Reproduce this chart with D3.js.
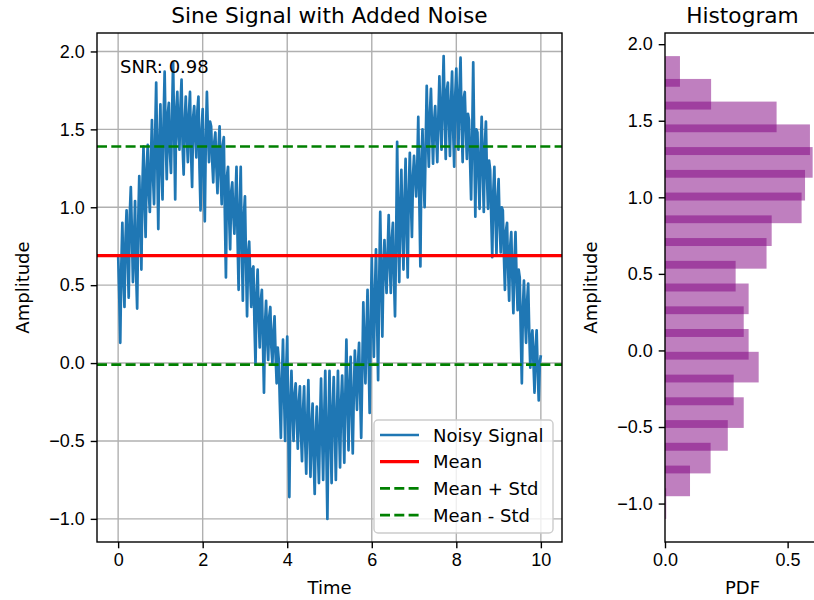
<!DOCTYPE html>
<html>
<head>
<meta charset="utf-8">
<script src="https://cdn.jsdelivr.net/npm/d3@7"></script>
<style>
  body { margin: 0; background: #fff; }
  svg { display: block; font-family: "DejaVu Sans", sans-serif; }
  .tick text { font-size: 18px; fill: #000; }
  .tick line { stroke: #000; stroke-width: 1.4; }
</style>
</head>
<body>
<div id="chart-area"></div>
<script>
// noisy signal, sampled every 0.025 s from t = 0 to t = 10
const timeStep = 0.025;
const amplitude = [
  0.70, 0.45, 0.13, 0.62, 0.90, 0.55, 0.36, 0.80, 0.98, 0.70, 0.42, 0.95,
  1.13, 0.85, 0.52, 0.75, 1.04, 0.58, 0.35, 0.90, 1.20, 0.95, 0.60, 1.15,
  1.39, 1.05, 0.81, 1.25, 1.40, 1.10, 0.97, 1.30, 1.56, 1.20, 1.02, 1.45,
  1.80, 1.30, 0.86, 1.40, 1.66, 1.25, 1.05, 1.55, 1.87, 1.45, 1.18, 1.60,
  1.67, 1.35, 1.22, 1.58, 1.93, 1.50, 1.05, 1.62, 1.74, 1.48, 1.37, 1.65,
  1.82, 1.40, 1.21, 1.55, 1.71, 1.45, 1.29, 1.60, 1.74, 1.35, 1.13, 1.58,
  1.65, 1.45, 1.32, 1.62, 1.71, 1.25, 0.98, 1.50, 1.63, 1.20, 0.91, 1.45,
  1.74, 1.48, 1.29, 1.55, 1.52, 1.30, 1.16, 1.42, 1.48, 1.25, 1.09, 1.38,
  1.52, 1.20, 1.02, 1.40, 1.45, 0.95, 0.55, 1.20, 1.26, 0.95, 0.73, 1.10,
  1.16, 0.95, 0.83, 1.05, 1.26, 0.80, 0.47, 1.00, 1.26, 0.75, 0.40, 0.95,
  1.07, 0.65, 0.30, 0.70, 0.78, 0.55, 0.36, 0.60, 0.62, 0.25, -0.01, 0.45,
  0.60, 0.30, 0.10, 0.40, 0.47, 0.15, -0.19, 0.25, 0.40, 0.15, 0.02, 0.30,
  0.36, 0.10, 0.00, 0.20, 0.30, 0.05, -0.13, 0.10, 0.02, -0.25, -0.48, -0.10,
  0.15, -0.20, -0.50, -0.05, 0.17, -0.40, -0.86, -0.25, -0.05, -0.30, -0.50, -0.20,
  -0.13, -0.35, -0.55, -0.25, -0.15, -0.45, -0.63, -0.30, -0.15, -0.50, -0.71, -0.35,
  -0.11, -0.45, -0.73, -0.40, -0.26, -0.60, -0.84, -0.45, -0.28, -0.55, -0.77, -0.40,
  -0.10, -0.45, -0.75, -0.35, -0.05, -0.55, -1.00, -0.40, -0.05, -0.45, -0.77, -0.30,
  -0.09, -0.40, -0.75, -0.35, -0.05, -0.40, -0.67, -0.25, -0.08, -0.35, -0.64, -0.20,
  0.15, -0.25, -0.56, -0.15, 0.04, -0.30, -0.58, -0.20, 0.08, -0.10, -0.30, 0.00,
  0.13, -0.20, -0.48, -0.05, 0.39, 0.10, -0.13, 0.20, 0.47, 0.05, -0.32, 0.25,
  0.68, 0.30, 0.04, 0.45, 0.73, 0.30, -0.11, 0.50, 0.97, 0.55, 0.17, 0.60,
  0.79, 0.60, 0.45, 0.70, 0.95, 0.65, 0.45, 0.80, 0.90, 0.55, 0.30, 0.75,
  1.42, 0.90, 0.52, 1.00, 1.24, 0.85, 0.60, 1.05, 1.31, 0.85, 0.55, 1.10,
  1.35, 1.05, 0.81, 1.20, 1.33, 1.20, 1.07, 1.25, 1.58, 1.05, 0.62, 1.30,
  1.50, 1.20, 1.00, 1.40, 1.78, 1.45, 1.26, 1.60, 1.76, 1.50, 1.28, 1.55,
  1.65, 1.45, 1.29, 1.58, 1.84, 1.55, 1.37, 1.70, 1.97, 1.60, 1.31, 1.75,
  1.80, 1.55, 1.33, 1.68, 1.87, 1.50, 1.26, 1.72, 1.89, 1.60, 1.37, 1.75,
  1.96, 1.55, 1.29, 1.70, 1.74, 1.50, 1.31, 1.60, 1.56, 1.30, 1.05, 1.45,
  1.93, 1.40, 0.94, 1.50, 1.48, 1.20, 0.99, 1.35, 1.58, 1.25, 0.97, 1.40,
  1.55, 1.20, 0.99, 1.30, 1.24, 0.95, 0.68, 1.10, 1.26, 0.95, 0.70, 1.05,
  1.18, 0.90, 0.71, 1.00, 0.98, 0.70, 0.47, 0.85, 0.90, 0.60, 0.40, 0.75,
  0.84, 0.55, 0.32, 0.65, 0.84, 0.55, 0.34, 0.60, 0.55, 0.20, -0.13, 0.35,
  0.53, 0.30, 0.13, 0.40, 0.51, 0.20, -0.03, 0.15, 0.21, 0.00, -0.19, 0.10,
  0.21, -0.05, -0.24, 0.00, 0.05
];
const signalMean = 0.69;
const signalStd = 0.70;
const snr = 0.98;

// histogram (bin lower edges, density)
const binEdges = [-1.000, -0.852, -0.703, -0.555, -0.406, -0.258, -0.109, 0.040, 0.188, 0.337,
  0.485, 0.634, 0.782, 0.931, 1.079, 1.228, 1.376, 1.525, 1.673, 1.822];
const binDensity = [0.005, 0.102, 0.186, 0.256, 0.321, 0.280, 0.382, 0.341, 0.321, 0.341,
  0.288, 0.414, 0.435, 0.557, 0.571, 0.602, 0.591, 0.455, 0.188, 0.061];
const barHeight = 0.2;

const xTicks = [0, 2, 4, 6, 8, 10];
const yTicks = [-1.0, -0.5, 0.0, 0.5, 1.0, 1.5, 2.0];
const pdfTicks = [0.0, 0.5];

const legendLabels = ["Noisy Signal", "Mean", "Mean + Std", "Mean - Std"];

const W = 814, H = 600;
const main = { left: 97, right: 562, top: 33, bottom: 542 };
const hist = { left: 665, right: 820, top: 33, bottom: 542 };

const svg = d3.select("#chart-area")
    .append("svg")
    .attr("width", W)
    .attr("height", H);
svg.append("rect").attr("width", W).attr("height", H).attr("fill", "#fff");

const data = amplitude.map((v, i) => ({ t: i * timeStep, v: v }));

const x = d3.scaleLinear().domain([-0.5, 10.5]).range([main.left, main.right]);
const y = d3.scaleLinear().domain([-1.1485, 2.1185]).range([main.bottom, main.top]);

// grid
const grid = svg.append("g").attr("class", "grid");
grid.selectAll(".gx").data(xTicks).enter().append("line")
    .attr("x1", d => x(d)).attr("x2", d => x(d))
    .attr("y1", main.top).attr("y2", main.bottom)
    .attr("stroke", "#b0b0b0").attr("stroke-width", 1.4);
grid.selectAll(".gy").data(yTicks).enter().append("line")
    .attr("x1", main.left).attr("x2", main.right)
    .attr("y1", d => y(d)).attr("y2", d => y(d))
    .attr("stroke", "#b0b0b0").attr("stroke-width", 1.4);

// signal
const line = d3.line().x(d => x(d.t)).y(d => y(d.v));
svg.append("path")
    .datum(data)
    .attr("d", line)
    .attr("fill", "none")
    .attr("stroke", "#1f77b4")
    .attr("stroke-width", 2.7)
    .attr("stroke-linejoin", "round");

// mean and std lines
const hLines = [
    { v: signalMean, color: "red", dash: null, w: 3.2 },
    { v: signalMean + signalStd, color: "green", dash: "10,4.3", w: 2.7 },
    { v: signalMean - signalStd, color: "green", dash: "10,4.3", w: 2.7 }
];
hLines.forEach(h => {
    svg.append("line")
        .attr("x1", main.left).attr("x2", main.right)
        .attr("y1", y(h.v)).attr("y2", y(h.v))
        .attr("stroke", h.color)
        .attr("stroke-width", h.w)
        .attr("stroke-dasharray", h.dash);
});

// axes
const fmt = d3.format(".1f");
svg.append("g")
    .attr("transform", "translate(0," + main.bottom + ")")
    .call(d3.axisBottom(x).tickValues(xTicks).tickFormat(d3.format("d"))
        .tickSize(6.3).tickSizeOuter(0).tickPadding(5))
    .call(g => g.select(".domain").remove());
svg.append("g")
    .attr("transform", "translate(" + main.left + ",0)")
    .call(d3.axisLeft(y).tickValues(yTicks).tickFormat(fmt)
        .tickSize(6.3).tickSizeOuter(0).tickPadding(6))
    .call(g => g.select(".domain").remove());

svg.append("rect")
    .attr("x", main.left).attr("y", main.top)
    .attr("width", main.right - main.left).attr("height", main.bottom - main.top)
    .attr("fill", "none").attr("stroke", "#000").attr("stroke-width", 1.4);

svg.append("text")
    .attr("x", main.left + 23).attr("y", main.top + 40)
    .attr("font-size", "18px")
    .text("SNR: " + snr.toFixed(2));

svg.append("text")
    .attr("x", (main.left + main.right) / 2).attr("y", 23)
    .attr("text-anchor", "middle")
    .attr("font-size", "21.7px")
    .text("Sine Signal with Added Noise");
svg.append("text")
    .attr("x", (main.left + main.right) / 2).attr("y", 594)
    .attr("text-anchor", "middle")
    .attr("font-size", "18px")
    .text("Time");
svg.append("text")
    .attr("transform", "translate(29," + (main.top + main.bottom) / 2 + ") rotate(-90)")
    .attr("text-anchor", "middle")
    .attr("font-size", "18px")
    .text("Amplitude");

// legend
const lg = svg.append("g").attr("transform", "translate(374,420)");
lg.append("rect")
    .attr("width", 179).attr("height", 113)
    .attr("rx", 4)
    .attr("fill", "#fff").attr("fill-opacity", 0.8)
    .attr("stroke", "#cccccc").attr("stroke-width", 1.4);
const lgStyle = [
    { color: "#1f77b4", dash: null, w: 2.7 },
    { color: "red", dash: null, w: 3.2 },
    { color: "green", dash: "10,4.3", w: 2.7 },
    { color: "green", dash: "10,4.3", w: 2.7 }
];
legendLabels.forEach((lab, i) => {
    const cy = 15 + i * 26.7;
    lg.append("line")
        .attr("x1", 6).attr("x2", 45)
        .attr("y1", cy).attr("y2", cy)
        .attr("stroke", lgStyle[i].color)
        .attr("stroke-width", lgStyle[i].w)
        .attr("stroke-dasharray", lgStyle[i].dash);
    lg.append("text")
        .attr("x", 59).attr("y", cy + 6.5)
        .attr("font-size", "18px")
        .text(lab);
});

// histogram panel
const hx = d3.scaleLinear().domain([0, 0.632]).range([hist.left, hist.right]);
const hy = d3.scaleLinear().domain([-1.251, 2.073]).range([hist.bottom, hist.top]);

svg.append("g").selectAll("rect")
    .data(binEdges)
    .enter()
    .append("rect")
    .attr("x", hx(0))
    .attr("y", d => hy(d + barHeight / 2))
    .attr("width", (d, i) => hx(binDensity[i]) - hx(0))
    .attr("height", hy(0) - hy(barHeight))
    .attr("fill", "purple")
    .attr("fill-opacity", 0.5);

svg.append("g")
    .attr("transform", "translate(0," + hist.bottom + ")")
    .call(d3.axisBottom(hx).tickValues(pdfTicks).tickFormat(fmt)
        .tickSize(6.3).tickSizeOuter(0).tickPadding(5))
    .call(g => g.select(".domain").remove());
svg.append("g")
    .attr("transform", "translate(" + hist.left + ",0)")
    .call(d3.axisLeft(hy).tickValues(yTicks).tickFormat(fmt)
        .tickSize(6.3).tickSizeOuter(0).tickPadding(6))
    .call(g => g.select(".domain").remove());

svg.append("rect")
    .attr("x", hist.left).attr("y", hist.top)
    .attr("width", hist.right - hist.left).attr("height", hist.bottom - hist.top)
    .attr("fill", "none").attr("stroke", "#000").attr("stroke-width", 1.4);

svg.append("text")
    .attr("x", (hist.left + hist.right) / 2).attr("y", 23)
    .attr("text-anchor", "middle")
    .attr("font-size", "21.7px")
    .text("Histogram");
svg.append("text")
    .attr("x", (hist.left + hist.right) / 2).attr("y", 594)
    .attr("text-anchor", "middle")
    .attr("font-size", "18px")
    .text("PDF");
svg.append("text")
    .attr("transform", "translate(597," + (hist.top + hist.bottom) / 2 + ") rotate(-90)")
    .attr("text-anchor", "middle")
    .attr("font-size", "18px")
    .text("Amplitude");
</script>
</body>
</html>
